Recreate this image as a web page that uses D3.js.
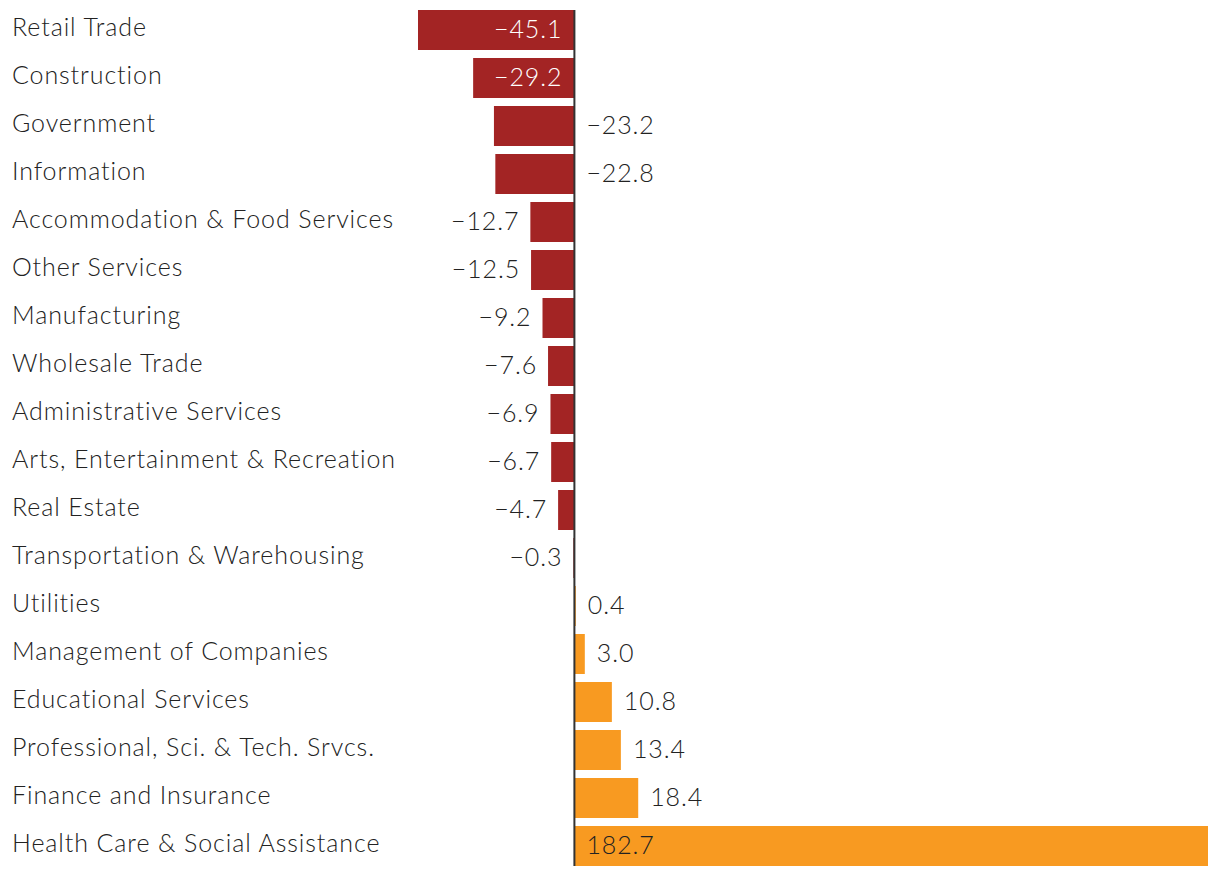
<!DOCTYPE html>
<html><head><meta charset="utf-8">
<script src="https://cdn.jsdelivr.net/npm/d3@7"></script>
<style>
html,body{margin:0;padding:0;background:#fff;}
svg{display:block;}
text{font-family:Lato,"Noto Sans",sans-serif;font-weight:300;letter-spacing:0.9px;}
</style></head>
<body>
<svg id="chart" width="1220" height="876"></svg>
<script>
const categories = ["Retail Trade","Construction","Government","Information","Accommodation & Food Services","Other Services","Manufacturing","Wholesale Trade","Administrative Services","Arts, Entertainment & Recreation","Real Estate","Transportation & Warehousing","Utilities","Management of Companies","Educational Services","Professional, Sci. & Tech. Srvcs.","Finance and Insurance","Health Care & Social Assistance"];
const values = [-45.1,-29.2,-23.2,-22.8,-12.7,-12.5,-9.2,-7.6,-6.9,-6.7,-4.7,-0.3,0.4,3.0,10.8,13.4,18.4,182.7];

const data = categories.map((c,i)=>({cat:c, v:values[i]}));
const svg = d3.select("#chart");
const fs = 25;
const x = d3.scaleLinear().domain([d3.min(values), d3.max(values)]).range([418, 1208]);
const y = d3.scaleBand().domain(categories).range([6, 870]).paddingInner(1/6).paddingOuter(1/12);
const fmt = v => (v<0?"\u2212":"") + d3.format(".1f")(Math.abs(v));

svg.selectAll("rect.bar").data(data).join("rect")
  .attr("class","bar")
  .attr("x", d=>x(Math.min(0,d.v)))
  .attr("width", d=>Math.abs(x(d.v)-x(0)))
  .attr("y", d=>y(d.cat))
  .attr("height", y.bandwidth())
  .attr("fill", d=>d.v<0?"#A32424":"#F89A21");

svg.append("line").attr("x1",x(0)).attr("x2",x(0)).attr("y1",y(categories[0])).attr("y2",y(categories[categories.length-1])+y.bandwidth())
  .attr("stroke","#333").attr("stroke-width",2);

svg.selectAll("text.cat").data(data).join("text")
  .attr("class","cat")
  .attr("x",12).attr("y",d=>y(d.cat)+y.bandwidth()/2-3)
  .attr("dy","0.35em").attr("font-size",fs).attr("fill","#222")
  .text(d=>d.cat);

svg.selectAll("text.val").data(data).join("text")
  .attr("class","val")
  .attr("font-size",fs)
  .attr("y",d=>y(d.cat)+y.bandwidth()/2-1)
  .attr("dy","0.35em")
  .each(function(d){
    const t = d3.select(this).text(fmt(d.v));
    const w = this.getComputedTextLength();
    const barW = Math.abs(x(d.v)-x(0));
    if(d.v<0){
      if(barW >= w+24){ t.attr("x",x(d.v)+barW-12).attr("text-anchor","end").attr("fill","#fff"); }
      else if(d.v < -20){ t.attr("x",x(0)+12).attr("text-anchor","start").attr("fill","#222"); }
      else { t.attr("x",x(d.v)-11).attr("text-anchor","end").attr("fill","#222"); }
    } else {
      if(barW >= w+24){ t.attr("x",x(0)+12).attr("text-anchor","start").attr("fill","#222"); }
      else { t.attr("x",x(d.v)+12).attr("text-anchor","start").attr("fill","#222"); }
    }
  });
</script>
</body></html>
